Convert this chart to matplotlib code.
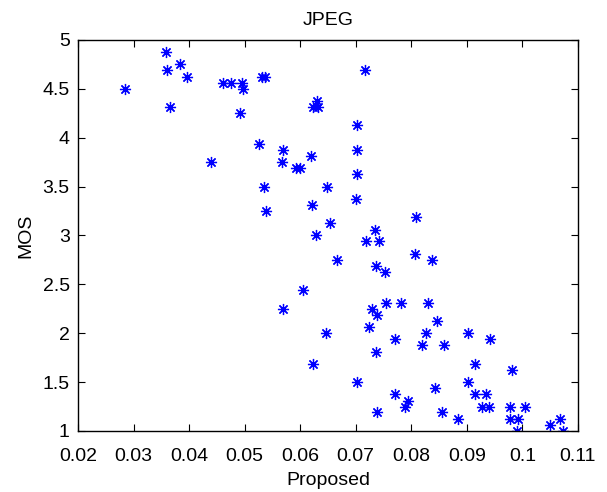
import matplotlib
matplotlib.use("Agg")
import matplotlib.pyplot as plt

# Proposed metric vs MOS (JPEG subset)
proposed = [0.0285, 0.0359, 0.0360, 0.0365, 0.0383, 0.0397, 0.0440, 0.0461, 0.0476, 0.0495,
            0.0497, 0.0492, 0.0526, 0.0532, 0.0537, 0.0535, 0.0539, 0.0569, 0.0567, 0.0570,
            0.0593, 0.0600, 0.0605, 0.0620, 0.0622, 0.0624, 0.0631, 0.0633, 0.0629, 0.0623,
            0.0649, 0.0653, 0.0646, 0.0667, 0.0702, 0.0703, 0.0702, 0.0701, 0.0703, 0.0717,
            0.0718, 0.0734, 0.0742, 0.0729, 0.0724, 0.0737, 0.0739, 0.0737, 0.0739, 0.0753,
            0.0755, 0.0771, 0.0771, 0.0781, 0.0788, 0.0795, 0.0809, 0.0806, 0.0820, 0.0831,
            0.0827, 0.0837, 0.0846, 0.0843, 0.0859, 0.0856, 0.0885, 0.0903, 0.0903, 0.0915,
            0.0915, 0.0927, 0.0934, 0.0941, 0.0940, 0.0981, 0.0978, 0.0978, 0.0992, 0.0990,
            0.1004, 0.1049, 0.1068, 0.1073]
mos = [4.50, 4.875, 4.69, 4.31, 4.75, 4.625, 3.75, 4.5625, 4.5625, 4.5625,
       4.50, 4.25, 3.94, 4.625, 4.625, 3.50, 3.25, 3.875, 3.75, 2.25,
       3.69, 3.69, 2.44, 3.81, 3.31, 4.31, 4.375, 4.31, 3.00, 1.69,
       3.50, 3.125, 2.00, 2.75, 4.125, 3.875, 3.625, 3.375, 1.50, 4.69,
       2.94, 3.06, 2.94, 2.25, 2.06, 2.69, 2.19, 1.81, 1.19, 2.625,
       2.31, 1.94, 1.375, 2.31, 1.25, 1.31, 3.19, 2.81, 1.875, 2.31,
       2.00, 2.75, 2.125, 1.44, 1.875, 1.19, 1.125, 2.00, 1.50, 1.69,
       1.375, 1.25, 1.375, 1.94, 1.25, 1.625, 1.25, 1.125, 1.125, 1.00,
       1.25, 1.0625, 1.125, 1.00]

xticks = [0.02, 0.03, 0.04, 0.05, 0.06, 0.07, 0.08, 0.09, 0.1, 0.11]
xticklabels = ['0.02', '0.03', '0.04', '0.05', '0.06', '0.07', '0.08', '0.09', '0.1', '0.11']
yticks = [1, 1.5, 2, 2.5, 3, 3.5, 4, 4.5, 5]
yticklabels = ['1', '1.5', '2', '2.5', '3', '3.5', '4', '4.5', '5']

plt.rcParams['font.family'] = ['Liberation Sans', 'DejaVu Sans']
plt.rcParams['font.size'] = 14

fig = plt.figure(figsize=(6.07, 4.92), dpi=100)
ax = fig.add_axes([0.1285, 0.124, 0.8235, 0.795])
# MATLAB-style '*' marker: 8-armed asterisk
ax.plot(proposed, mos, linestyle='none', marker=(8, 2, 0), color='#0000ff', markersize=8,
        markeredgewidth=0.9)

ax.set_xlim(0.02, 0.11)
ax.set_ylim(1, 5)
ax.set_xticks(xticks)
ax.set_xticklabels(xticklabels)
ax.set_yticks(yticks)
ax.set_yticklabels(yticklabels)
ax.tick_params(direction='in', top=True, right=True, length=5, width=0.8, labelsize=14)
ax.tick_params(axis='x', pad=12)
ax.tick_params(axis='y', pad=6)
for s in ax.spines.values():
    s.set_linewidth(1)

ax.set_title('JPEG', fontsize=14, pad=11)
ax.set_xlabel('Proposed', fontsize=14, labelpad=5)
ax.set_ylabel('MOS', fontsize=14, labelpad=6)

fig.savefig('out.png', dpi=100)
